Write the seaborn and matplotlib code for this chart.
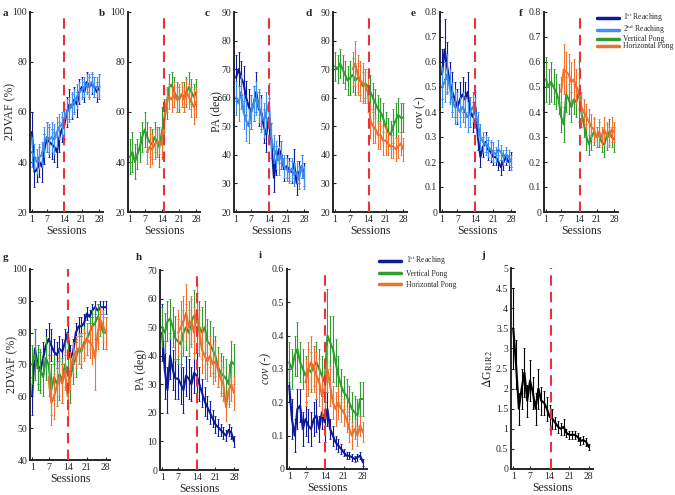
import numpy as np
import pandas as pd
import matplotlib
matplotlib.use("Agg")
import matplotlib.pyplot as plt
from matplotlib.lines import Line2D
from matplotlib.ticker import FormatStrFormatter
import seaborn as sns

sessions = np.arange(1, 29)
nan = np.nan

# colours
C_R1 = "#0d1a9c"
C_R2 = "#3d8ff0"
C_VP = "#2f9e2f"
C_HP = "#f07030"
C_RED = "#e8323c"

# ---- panel a : 2DVAF reaching
a_r1 = [52, 36, 37, 40, 38, 45, 50, 48, 47, 46, 44, 50, 53, 55, 60, 63, 62, 65, 63, 68, 70, 68, 72, 70, 71, 70, 68, 70]
a_r1_err = [8, 6, 5, 6, 6, 6, 6, 6, 6, 6, 6, 6, 5, 6, 6, 6, 5, 5, 5, 5, 4, 4, 4, 4, 4, 4, 4, 5]
a_r2 = [44, 42, 40, 42, 43, 48, 50, 49, 50, 49, 52, 54, 55, 57, 60, 61, 63, 64, 66, 68, 69, 70, 71, 70, 72, 70, 70, 70]
a_r2_err = [6, 5, 5, 5, 5, 6, 6, 6, 6, 6, 6, 5, 5, 6, 5, 5, 5, 5, 5, 4, 4, 4, 4, 5, 4, 4, 4, 5]

# ---- panel b : 2DVAF pong
b_vp = [42, 44, 40, 43, 46, 50, 53, 50, 48, 47, 50, 48, 46, 52, 57, 63, 70, 71, 68, 66, 65, 67, 66, 68, 70, 68, 66, 68]
b_vp_err = [7, 8, 7, 6, 6, 6, 7, 6, 6, 6, 6, 6, 8, 10, 8, 6, 5, 5, 6, 6, 5, 5, 6, 6, 6, 5, 5, 5]
b_hp = [nan] * 7 + [44, 46, 45, 47, 48, 48, 47, 58, 65, 66, 65, 67, 65, 66, 67, 65, 68, 66, 64, 62, 64]
b_hp_err = [nan] * 7 + [5, 8, 6, 6, 6, 5, 6, 6, 5, 5, 5, 5, 5, 5, 5, 5, 5, 5, 6, 7, 6]

# ---- panel c : PA reaching
c_r1 = [67, 70, 67, 65, 60, 57, 55, 58, 62, 56, 55, 50, 47, 53, 45, 32, 38, 42, 40, 35, 36, 35, 34, 37, 30, 34, 36, 33]
c_r1_err = [8, 6, 6, 6, 6, 6, 6, 6, 7, 6, 6, 6, 6, 7, 6, 5, 5, 5, 5, 4, 4, 4, 4, 5, 4, 4, 4, 4]
c_r2 = [60, 58, 62, 55, 52, 50, 55, 58, 60, 57, 54, 52, 55, 58, 45, 42, 40, 38, 40, 36, 35, 34, 35, 33, 34, 32, 36, 32]
c_r2_err = [6, 6, 6, 6, 7, 6, 6, 6, 6, 6, 6, 6, 7, 7, 6, 5, 5, 5, 5, 4, 4, 4, 4, 4, 4, 4, 4, 4]

# ---- panel d : PA pong
d_vp = [71, 70, 72, 70, 68, 66, 67, 68, 66, 67, 66, 64, 65, 64, 62, 60, 58, 56, 55, 53, 50, 48, 47, 50, 52, 54, 53, 53]
d_vp_err = [5, 5, 5, 5, 5, 5, 6, 6, 5, 5, 5, 5, 5, 6, 6, 5, 5, 5, 5, 5, 5, 5, 5, 6, 6, 6, 5, 5]
d_hp = [nan] * 7 + [70, 72, 68, 66, 65, 64, 62, 52, 50, 49, 47, 47, 45, 45, 44, 43, 43, 42, 43, 44, 42]
d_hp_err = [nan] * 7 + [6, 8, 7, 7, 7, 6, 7, 6, 6, 5, 5, 5, 5, 5, 4, 4, 4, 4, 4, 4, 4]

# ---- panel e : cov reaching
e_r1 = [0.55, 0.65, 0.58, 0.52, 0.48, 0.45, 0.42, 0.45, 0.47, 0.45, 0.48, 0.40, 0.38, 0.42, 0.30, 0.22, 0.26, 0.28, 0.25, 0.24, 0.22, 0.22, 0.20, 0.18, 0.20, 0.22, 0.20, 0.21]
e_r1_err = [0.1, 0.12, 0.1, 0.08, 0.08, 0.07, 0.07, 0.07, 0.07, 0.07, 0.08, 0.06, 0.06, 0.06, 0.05, 0.04, 0.04, 0.04, 0.04, 0.04, 0.03, 0.03, 0.03, 0.03, 0.03, 0.03, 0.03, 0.03]
e_r2 = [0.50, 0.52, 0.55, 0.50, 0.45, 0.42, 0.42, 0.40, 0.42, 0.40, 0.38, 0.40, 0.42, 0.40, 0.35, 0.30, 0.28, 0.27, 0.26, 0.25, 0.24, 0.23, 0.25, 0.24, 0.22, 0.23, 0.22, 0.20]
e_r2_err = [0.08, 0.08, 0.08, 0.07, 0.07, 0.07, 0.06, 0.06, 0.06, 0.06, 0.06, 0.06, 0.06, 0.06, 0.05, 0.05, 0.04, 0.04, 0.04, 0.04, 0.04, 0.03, 0.04, 0.03, 0.03, 0.03, 0.03, 0.03]

# ---- panel f : cov pong
f_vp = [0.53, 0.50, 0.52, 0.50, 0.48, 0.45, 0.38, 0.35, 0.47, 0.45, 0.42, 0.45, 0.44, 0.48, 0.40, 0.35, 0.30, 0.27, 0.30, 0.32, 0.30, 0.31, 0.28, 0.27, 0.30, 0.32, 0.30, 0.29]
f_vp_err = [0.09, 0.07, 0.08, 0.07, 0.07, 0.06, 0.06, 0.07, 0.07, 0.06, 0.06, 0.06, 0.06, 0.12, 0.06, 0.05, 0.05, 0.04, 0.05, 0.05, 0.04, 0.05, 0.04, 0.05, 0.05, 0.05, 0.04, 0.05]
f_hp = [nan] * 6 + [0.48, 0.57, 0.56, 0.55, 0.52, 0.53, 0.50, 0.48, 0.42, 0.40, 0.38, 0.36, 0.34, 0.33, 0.30, 0.32, 0.30, 0.33, 0.31, 0.30, 0.33, 0.32]
f_hp_err = [nan] * 6 + [0.06, 0.1, 0.08, 0.08, 0.08, 0.08, 0.07, 0.07, 0.06, 0.05, 0.05, 0.05, 0.05, 0.05, 0.04, 0.05, 0.04, 0.05, 0.05, 0.04, 0.05, 0.04]

# ---- panel g : 2DVAF all tasks
g_r1 = [60, 75, 70, 68, 72, 76, 78, 76, 74, 73, 75, 74, 77, 80, 72, 74, 80, 82, 82, 83, 86, 85, 87, 88, 87, 88, 88, 88]
g_r1_err = [6, 6, 6, 6, 5, 5, 5, 5, 4, 4, 4, 4, 4, 5, 4, 4, 3, 3, 3, 3, 2, 2, 2, 2, 2, 2, 2, 2]
g_vp = [70, 73, 69, 68, 66, 72, 70, 62, 66, 64, 67, 65, 70, 67, 66, 70, 72, 75, 74, 77, 78, 80, 82, 83, 85, 83, 80, 80]
g_vp_err = [6, 8, 7, 7, 6, 7, 7, 8, 7, 7, 8, 7, 7, 10, 8, 6, 6, 5, 5, 5, 5, 5, 5, 5, 4, 4, 5, 5]
g_hp = [nan] * 6 + [66, 58, 60, 63, 66, 64, 68, 60, 68, 72, 74, 75, 75, 76, 78, 77, 76, 72, 80, 84, 82, 80]
g_hp_err = [nan] * 6 + [6, 7, 7, 6, 6, 6, 6, 9, 6, 5, 5, 5, 5, 5, 5, 5, 6, 10, 5, 4, 5, 5]

# ---- panel h : PA all tasks
h_r1 = [48, 35, 28, 40, 35, 32, 32, 30, 28, 33, 32, 30, 34, 33, 30, 27, 24, 22, 20, 18, 16, 15, 14, 13, 12, 14, 13, 10]
h_r1_err = [10, 10, 8, 8, 7, 7, 7, 7, 8, 7, 7, 6, 7, 8, 6, 5, 5, 4, 4, 3, 3, 3, 2, 2, 2, 2, 2, 2]
h_vp = [50, 48, 52, 53, 50, 46, 45, 44, 48, 50, 48, 52, 54, 52, 50, 48, 50, 45, 44, 42, 40, 36, 34, 33, 32, 30, 38, 37]
h_vp_err = [7, 7, 7, 7, 7, 8, 8, 8, 8, 8, 8, 8, 9, 10, 9, 9, 9, 8, 8, 8, 7, 7, 7, 7, 7, 7, 7, 7]
h_hp = [nan] * 6 + [48, 50, 52, 55, 50, 52, 48, 56, 48, 42, 40, 38, 40, 37, 38, 35, 32, 30, 22, 28, 30, 27]
h_hp_err = [nan] * 6 + [8, 9, 9, 10, 9, 9, 9, 9, 8, 8, 8, 7, 7, 7, 7, 6, 6, 6, 5, 6, 6, 6]

# ---- panel i : cov all tasks
i_r1 = [0.25, 0.15, 0.10, 0.18, 0.19, 0.12, 0.15, 0.13, 0.12, 0.15, 0.16, 0.12, 0.17, 0.14, 0.18, 0.12, 0.10, 0.08, 0.07, 0.06, 0.05, 0.04, 0.04, 0.035, 0.03, 0.035, 0.04, 0.02]
i_r1_err = [0.05, 0.06, 0.05, 0.06, 0.05, 0.05, 0.05, 0.05, 0.05, 0.05, 0.05, 0.04, 0.05, 0.06, 0.05, 0.03, 0.03, 0.02, 0.02, 0.015, 0.01, 0.01, 0.01, 0.01, 0.01, 0.01, 0.01, 0.01]
i_vp = [0.32, 0.30, 0.34, 0.36, 0.32, 0.30, 0.28, 0.30, 0.29, 0.31, 0.32, 0.30, 0.28, 0.26, 0.40, 0.38, 0.36, 0.32, 0.28, 0.25, 0.23, 0.22, 0.20, 0.18, 0.17, 0.16, 0.21, 0.21]
i_vp_err = [0.06, 0.06, 0.06, 0.08, 0.06, 0.06, 0.06, 0.06, 0.06, 0.06, 0.06, 0.06, 0.06, 0.06, 0.14, 0.08, 0.1, 0.07, 0.06, 0.05, 0.05, 0.05, 0.05, 0.05, 0.05, 0.05, 0.05, 0.05]
i_hp = [nan] * 6 + [0.26, 0.30, 0.32, 0.30, 0.28, 0.26, 0.22, 0.24, 0.30, 0.25, 0.20, 0.18, 0.20, 0.18, 0.17, 0.15, 0.12, 0.10, 0.12, 0.10, 0.13, 0.11]
i_hp_err = [nan] * 6 + [0.07, 0.08, 0.08, 0.07, 0.07, 0.07, 0.06, 0.08, 0.07, 0.06, 0.05, 0.05, 0.05, 0.04, 0.04, 0.04, 0.04, 0.04, 0.03, 0.03, 0.03, 0.03]

# ---- panel j : delta G
j_dg = [3.5, 2.6, 1.5, 2.0, 2.4, 1.7, 2.2, 1.9, 1.5, 2.0, 1.7, 1.65, 1.5, 1.3, 1.25, 1.15, 1.05, 1.0, 1.05, 0.9, 0.85, 0.85, 0.85, 0.8, 0.7, 0.72, 0.68, 0.55]
j_dg_err = [1.0, 0.6, 0.4, 0.5, 0.6, 0.4, 0.5, 0.4, 0.4, 0.5, 0.35, 0.3, 0.3, 0.3, 0.25, 0.15, 0.15, 0.15, 0.2, 0.1, 0.1, 0.1, 0.1, 0.1, 0.1, 0.1, 0.1, 0.08]

lab_r1 = r"1$^{\mathrm{st}}$ Reaching"
lab_r2 = r"2$^{\mathrm{nd}}$ Reaching"
lab_vp = "Vertical Pong"
lab_hp = "Horizontal Pong"

sns.set_style("ticks")
plt.rcParams["font.family"] = ["Liberation Serif", "DejaVu Serif"]
plt.rcParams["mathtext.fontset"] = "stix"

W, H = 675, 495
fig = plt.figure(figsize=(6.75, 4.95), dpi=100)


def make_ax(x0, x1, y0, y1):
    ax = fig.add_axes([x0 / W, 1 - y1 / H, (x1 - x0) / W, (y1 - y0) / H])
    ax._px = (x0, x1)
    return ax


def draw(ax, series, ylim, yticks, ylabel, vline, letter, lx, ly, fmt=None,
         italic=False, lab_cx=None):
    rows = []
    for name, vals, errs, col in series:
        rows.append(pd.DataFrame({"session": sessions, "value": vals, "series": name}))
    df = pd.concat(rows).dropna()
    pal = {s[0]: s[3] for s in series}
    sns.lineplot(data=df, x="session", y="value", hue="series", palette=pal,
                 hue_order=[s[0] for s in series], estimator=None, lw=1.5,
                 legend=False, ax=ax)
    for name, vals, errs, col in series:
        ax.errorbar(sessions, vals, yerr=errs, fmt="none", ecolor=col,
                    elinewidth=0.8, capsize=1.0, capthick=0.6)
    ax.axvline(vline, color=C_RED, ls=(0, (5, 3)), lw=1.5, zorder=5)
    ax.set_xlim(0.2, 29.5)
    ax.set_ylim(*ylim)
    ax.set_xticks([1, 7, 14, 21, 28])
    ax.set_yticks(yticks)
    if fmt:
        ax.yaxis.set_major_formatter(FormatStrFormatter(fmt))
    ax.set_xlabel("Sessions", fontsize=8.5, labelpad=1)
    ax.set_ylabel(ylabel, fontsize=8.5, style="italic" if italic else "normal")
    if lab_cx is not None:
        x0, x1 = ax._px
        ax.yaxis.set_label_coords((lab_cx + 5 - x0) / (x1 - x0), 0.5)
    ax.tick_params(direction="in", length=2.5, width=0.8, labelsize=7, pad=2)
    sns.despine(ax=ax)
    for sp in ["left", "bottom"]:
        ax.spines[sp].set_linewidth(1.4)
    fig.text(lx / W, 1 - ly / H, letter, fontsize=8, fontweight="bold", va="center")


# top row
ax = make_ax(30, 103, 12, 212)
draw(ax, [(lab_r1, a_r1, a_r1_err, C_R1), (lab_r2, a_r2, a_r2_err, C_R2)],
     (20, 100), [20, 40, 60, 80, 100], "2DVAF (%)", 14, "a", 3, 14, lab_cx=11)
ax = make_ax(128, 200, 12, 212)
draw(ax, [(lab_vp, b_vp, b_vp_err, C_VP), (lab_hp, b_hp, b_hp_err, C_HP)],
     (20, 100), [20, 40, 60, 80, 100], "", 14.8, "b", 99, 14)
ax = make_ax(234, 308, 12, 212)
draw(ax, [(lab_r1, c_r1, c_r1_err, C_R1), (lab_r2, c_r2, c_r2_err, C_R2)],
     (20, 90), range(20, 91, 10), "PA (deg)", 14, "c", 205, 14, lab_cx=218)
ax = make_ax(333, 407, 12, 212)
draw(ax, [(lab_vp, d_vp, d_vp_err, C_VP), (lab_hp, d_hp, d_hp_err, C_HP)],
     (20, 90), range(20, 91, 10), "", 14.5, "d", 306, 14)
ax = make_ax(440, 515, 12, 212)
draw(ax, [(lab_r1, e_r1, e_r1_err, C_R1), (lab_r2, e_r2, e_r2_err, C_R2)],
     (0, 0.8), np.arange(0, 0.81, 0.1), "cov (-)", 14, "e", 411, 14, fmt="%g",
     lab_cx=421)
ax = make_ax(544, 618, 12, 212)
draw(ax, [(lab_vp, f_vp, f_vp_err, C_VP), (lab_hp, f_hp, f_hp_err, C_HP)],
     (0, 0.8), np.arange(0, 0.81, 0.1), "", 14.5, "f", 519, 14, fmt="%g")

top_handles = [Line2D([], [], color=c, lw=2.5) for c in [C_R1, C_R2, C_VP, C_HP]]
fig.legend(top_handles, [lab_r1, lab_r2, lab_vp, lab_hp], loc="upper left",
           bbox_to_anchor=(593 / W, 1 - 7 / H), frameon=False, fontsize=5.5,
           handlelength=2.9, labelspacing=-0.15, handletextpad=0.5, borderpad=0)

# bottom row
ax = make_ax(30, 110, 269, 460)
draw(ax, [(lab_r1, g_r1, g_r1_err, C_R1), (lab_vp, g_vp, g_vp_err, C_VP), (lab_hp, g_hp, g_hp_err, C_HP)],
     (40, 100), range(40, 101, 10), "2DVAF (%)", 14, "g", 3, 258, lab_cx=13)
ax = make_ax(160, 238, 270, 470)
draw(ax, [(lab_r1, h_r1, h_r1_err, C_R1), (lab_vp, h_vp, h_vp_err, C_VP), (lab_hp, h_hp, h_hp_err, C_HP)],
     (0, 70), range(0, 71, 10), "PA (deg)", 14, "h", 136, 258, lab_cx=142)
ax = make_ax(287, 367, 269, 469)
draw(ax, [(lab_r1, i_r1, i_r1_err, C_R1), (lab_vp, i_vp, i_vp_err, C_VP), (lab_hp, i_hp, i_hp_err, C_HP)],
     (0, 0.6), np.arange(0, 0.61, 0.1), "cov (-)", 14, "i", 259, 256, fmt="%g",
     italic=True, lab_cx=267)
ax = make_ax(511, 593, 268, 469)
draw(ax, [("dG", j_dg, j_dg_err, "black")],
     (0, 5), np.arange(0, 5.01, 0.5), r"$\Delta$G$_{\mathrm{R1R2}}$", 14.5, "j", 481, 256,
     fmt="%g", lab_cx=490)

bot_handles = [Line2D([], [], color=c, lw=2.5) for c in [C_R1, C_VP, C_HP]]
fig.legend(bot_handles, [lab_r1, lab_vp, lab_hp], loc="upper left",
           bbox_to_anchor=(375 / W, 1 - 250 / H), frameon=False, fontsize=5.5,
           handlelength=2.9, labelspacing=0.35, handletextpad=0.6, borderpad=0)

fig.savefig("out.png", dpi=100)
